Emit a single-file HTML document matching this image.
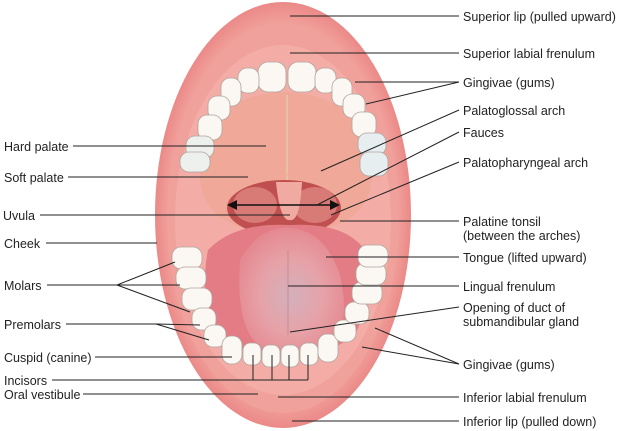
<!DOCTYPE html>
<html><head><meta charset="utf-8"><style>
html,body{margin:0;padding:0;background:#fff;}
svg{display:block;}
text{font-family:"Liberation Sans",sans-serif;font-size:12.5px;fill:#222;}
</style></head><body>
<svg width="621" height="431" viewBox="0 0 621 431" xmlns="http://www.w3.org/2000/svg">
<defs>
<radialGradient id="lip" cx="0.5" cy="0.5" r="0.55">
<stop offset="0.8" stop-color="#f2a39e"/><stop offset="0.95" stop-color="#e8807f"/><stop offset="1" stop-color="#f4b8b4"/>
</radialGradient>
<radialGradient id="tongue" cx="0.5" cy="0.55" r="0.6">
<stop offset="0" stop-color="#d4b0bc"/><stop offset="0.5" stop-color="#e6a2a8"/><stop offset="1" stop-color="#e5848c"/>
</radialGradient>
</defs>
<ellipse cx="283" cy="215" rx="128" ry="213" fill="url(#lip)"/>
<ellipse cx="283" cy="218" rx="116" ry="195" fill="#f0a19c"/>
<ellipse cx="283" cy="220" rx="108" ry="175" fill="#f3ada6"/>
<path d="M200 175 Q200 95 285 92 Q368 95 372 175 Q372 230 285 235 Q200 230 200 175Z" fill="#f0a898"/>
<line x1="287" y1="95" x2="287" y2="180" stroke="#e8c1a0" stroke-width="2"/>
<ellipse cx="284" cy="208" rx="57" ry="28" fill="#c0504f"/>
<ellipse cx="255" cy="205" rx="22" ry="18" fill="#d87a76"/>
<ellipse cx="315" cy="205" rx="22" ry="18" fill="#d87a76"/>
<path d="M230 190 Q285 160 340 190 L330 178 Q285 170 240 178Z" fill="#f0a898"/>
<path d="M276 182 Q280 222 290 220 Q300 222 302 182 Z" fill="#f0aaa2"/>
<path d="M208 250 Q235 222 290 225 Q350 222 368 255 Q372 300 355 335 Q320 360 280 358 Q235 355 212 330 Q200 290 208 250Z" fill="#e37c84"/>
<path d="M240 260 Q260 225 290 228 Q325 230 340 275 Q350 320 335 340 Q300 358 262 348 Q235 330 240 260Z" fill="url(#tongue)"/>
<line x1="288" y1="250" x2="288" y2="335" stroke="#c98a92" stroke-width="1"/>
<g fill="#fbf7f2" stroke="#b0a59e" stroke-width="0.8">
<rect x="258" y="62" width="28" height="30" rx="10"/>
<rect x="288" y="62" width="28" height="30" rx="10"/>
<rect x="238" y="68" width="21" height="25" rx="9"/>
<rect x="315" y="68" width="21" height="25" rx="9"/>
<rect x="221" y="78" width="20" height="28" rx="9"/>
<rect x="332" y="78" width="20" height="28" rx="9"/>
<rect x="208" y="96" width="22" height="24" rx="9"/>
<rect x="343" y="94" width="22" height="24" rx="9"/>
<rect x="198" y="115" width="24" height="25" rx="9"/>
<rect x="352" y="112" width="24" height="25" rx="9"/>
<rect x="186" y="136" width="28" height="22" rx="9" fill="#eef0ee"/>
<rect x="358" y="133" width="28" height="22" rx="9" fill="#e6eef0"/>
<rect x="180" y="152" width="30" height="20" rx="9" fill="#eef0ee"/>
<rect x="360" y="152" width="28" height="24" rx="9" fill="#e6eef0"/>
</g>
<g fill="#fbf7f2" stroke="#b0a59e" stroke-width="0.8">
<rect x="172" y="247" width="30" height="22" rx="9"/>
<rect x="176" y="267" width="30" height="22" rx="9"/>
<rect x="182" y="288" width="30" height="22" rx="9"/>
<rect x="192" y="308" width="24" height="22" rx="9"/>
<rect x="204" y="325" width="22" height="22" rx="9"/>
<rect x="222" y="336" width="20" height="28" rx="9"/>
<rect x="243" y="343" width="18" height="22" rx="7"/>
<rect x="262" y="345" width="18" height="22" rx="7"/>
<rect x="281" y="345" width="18" height="22" rx="7"/>
<rect x="300" y="343" width="18" height="22" rx="7"/>
<rect x="318" y="334" width="20" height="28" rx="9"/>
<rect x="334" y="320" width="22" height="22" rx="9"/>
<rect x="345" y="302" width="24" height="22" rx="9"/>
<rect x="352" y="282" width="30" height="22" rx="9"/>
<rect x="356" y="263" width="30" height="22" rx="9"/>
<rect x="358" y="245" width="30" height="22" rx="9"/>
</g>
<line x1="234" y1="205" x2="332" y2="205" stroke="#111" stroke-width="1.6"/>
<polygon points="227,205 237,200 237,210" fill="#111"/>
<polygon points="340,205 330,200 330,210" fill="#111"/>
<g stroke="#222" stroke-width="1" fill="none">
<line x1="290" y1="16" x2="459" y2="16"/>
<line x1="290" y1="53" x2="459" y2="53"/>
<line x1="355" y1="82" x2="459" y2="82"/>
<line x1="366" y1="104" x2="459" y2="82"/>
<line x1="321" y1="171" x2="459" y2="110"/>
<line x1="317" y1="205" x2="459" y2="132"/>
<line x1="331" y1="215" x2="459" y2="162"/>
<line x1="340" y1="221" x2="459" y2="221"/>
<line x1="326" y1="257" x2="459" y2="257"/>
<line x1="288" y1="286" x2="459" y2="286"/>
<line x1="290" y1="332" x2="459" y2="307"/>
<line x1="375" y1="328" x2="459" y2="364"/>
<line x1="362" y1="347" x2="459" y2="364"/>
<line x1="278" y1="397" x2="459" y2="397"/>
<line x1="292" y1="421" x2="459" y2="421"/>
<line x1="73" y1="146" x2="266" y2="146"/>
<line x1="68" y1="177" x2="248" y2="177"/>
<line x1="40" y1="215" x2="290" y2="215"/>
<line x1="46" y1="243" x2="157" y2="243"/>
<line x1="47" y1="285" x2="180" y2="285"/>
<line x1="117" y1="285" x2="175" y2="262"/>
<line x1="117" y1="285" x2="190" y2="312"/>
<line x1="66" y1="324" x2="156" y2="324"/>
<line x1="156" y1="324" x2="200" y2="325"/>
<line x1="156" y1="324" x2="209" y2="340"/>
<line x1="95" y1="357" x2="232" y2="357"/>
<line x1="52" y1="380" x2="308" y2="380"/>
<line x1="253" y1="355" x2="253" y2="380"/>
<line x1="272" y1="355" x2="272" y2="380"/>
<line x1="289" y1="355" x2="289" y2="380"/>
<line x1="308" y1="355" x2="308" y2="380"/>
<line x1="83" y1="394" x2="258" y2="394"/>
</g>
<text x="463" y="21">Superior lip (pulled upward)</text>
<text x="463" y="58">Superior labial frenulum</text>
<text x="463" y="87">Gingivae (gums)</text>
<text x="463" y="115">Palatoglossal arch</text>
<text x="463" y="137">Fauces</text>
<text x="463" y="167">Palatopharyngeal arch</text>
<text x="463" y="226">Palatine tonsil</text>
<text x="463" y="240">(between the arches)</text>
<text x="463" y="262">Tongue (lifted upward)</text>
<text x="463" y="291">Lingual frenulum</text>
<text x="463" y="312">Opening of duct of</text>
<text x="463" y="326">submandibular gland</text>
<text x="463" y="369">Gingivae (gums)</text>
<text x="463" y="402">Inferior labial frenulum</text>
<text x="463" y="426">Inferior lip (pulled down)</text>
<text x="4" y="151">Hard palate</text>
<text x="4" y="182">Soft palate</text>
<text x="3" y="220">Uvula</text>
<text x="4" y="248">Cheek</text>
<text x="4" y="290">Molars</text>
<text x="4" y="329">Premolars</text>
<text x="4" y="362">Cuspid (canine)</text>
<text x="4" y="385">Incisors</text>
<text x="4" y="399">Oral vestibule</text>
</svg>
</body></html>
